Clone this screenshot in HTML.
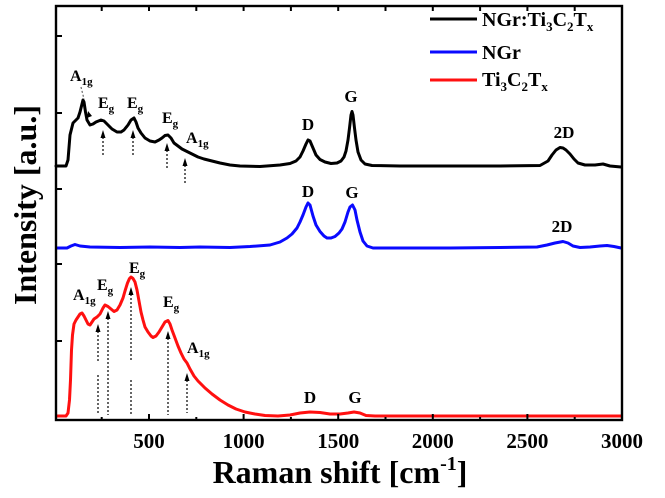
<!DOCTYPE html>
<html>
<head>
<meta charset="utf-8">
<style>
html,body{margin:0;padding:0;background:#fff;}
svg{display:block;}
text{font-family:"Liberation Serif","Times New Roman",serif;font-weight:bold;fill:#000;}
</style>
</head>
<body>
<svg width="665" height="498" viewBox="0 0 665 498" xmlns="http://www.w3.org/2000/svg">
<rect x="0" y="0" width="665" height="498" fill="#fff"/>

<!-- series -->
<polyline fill="none" stroke="#000" stroke-width="3" stroke-linejoin="round" stroke-linecap="round"
points="56,166 66,166 68,160 70,135 73,123 76,120 78,118 80,112 81,108 83,100 84,102 85.5,112 87,120 90,125 93,124 96,122 101,120 104,121 108,125 112,129 117,132 121,132 124,130 128,125 131,120 134,118 136,122 138,128 141,133 145,138 150,141 155,142 159,140 162,138 165,135.5 168,135 171,138 174,143 178,146 182,149 186,151 190,153 194,155 198,157 204,159 212,161 220,163 230,165 240,166 260,166.5 280,165 290,163.5 296,161 300,157 303,151 306,144 308,140 310,141 313,148 316,155 320,159.5 325,162 331,163.5 337,163 341,161 344,157 346,151 348,140 349.5,128 351,115 352,111.5 353,115 354.5,128 356,140 358,152 361,160 365,164 372,165.5 400,166 500,166 540,165.5 548,161 552,155 556,150 560,147.5 563,148 566,150 570,154 574,159 578,163 585,165 595,165 603,164 610,166 621,167"/>

<polyline fill="none" stroke="#0a0aff" stroke-width="3" stroke-linejoin="round" stroke-linecap="round"
points="57,248 67,248 71,246 75,244.5 80,246 90,247 120,247.5 150,247 180,247.5 200,247 230,247.5 250,246.5 270,245 280,242 287,238 292,234 297,228 300,222 303,215 306,207 308,203 310,205 313,216 316,225 320,231.5 324,236 327,238 331,238 335,236.5 339,233 342,229 345,222 348,212 350,207 352.5,205 355,210 357,220 360,232 363,241 367,246 373,248 400,248 450,248 500,247.5 537,247 547,245 555,243 563,241.5 568,243 573,246 580,247.5 590,247 600,246 607,245.5 614,246.5 621,248"/>

<polyline fill="none" stroke="#ff1010" stroke-width="3" stroke-linejoin="round" stroke-linecap="round"
points="57,416 66,416 68,413 69.5,400 70.5,380 71.5,350 72.5,335 74,324 76,320 78,317 80,314 82,313 84,316 86,320 88,324 90,325 92,322 94,319 97,317 100,314 103,308 105,305 108,306.5 111,309 114,311.5 117,310 120,305 123,298 125,291 127.5,283 129.5,278.5 131,277 133,278.5 135,282 137,290 139,301 141,312 143,320 145,327 148,332 151,336 153,337.5 156,336 159,332 162,327 165,322 168,320.5 170,324 172,330 175,338 178,346 181,353 184,359 187,363 190,369 194,376 198,381 205,388 212,394 220,400 228,405 236,409 245,412 255,414 265,415.5 278,416 290,415 300,413 310,412 320,412.5 330,414 340,414 348,413 354,412 360,413 366,415.5 375,416 621,416"/>

<!-- dotted arrows (black curve) -->
<g stroke="#000" stroke-width="1.2" stroke-dasharray="2,2" fill="none">
<line x1="103" y1="137" x2="103" y2="157"/>
<line x1="133" y1="137" x2="133" y2="157"/>
<line x1="167" y1="150" x2="167" y2="170"/>
<line x1="185" y1="165" x2="185" y2="185"/>
<line x1="81" y1="87" x2="84" y2="99" stroke="#666"/>
<!-- red curve -->
<line x1="98" y1="331" x2="98" y2="361"/>
<line x1="98" y1="375" x2="98" y2="415"/>
<line x1="108" y1="318" x2="108" y2="415"/>
<line x1="131" y1="294" x2="131" y2="360"/>
<line x1="131" y1="380" x2="131" y2="415"/>
<line x1="168" y1="338" x2="168" y2="415"/>
<line x1="187" y1="380" x2="187" y2="413"/>
</g>
<g fill="#000">
<polygon points="103,130 100.5,138 105.5,138"/>
<polygon points="133,130 130.5,138 135.5,138"/>
<polygon points="167,143 164.5,151 169.5,151"/>
<polygon points="185,158 182.5,166 187.5,166"/>
<polygon points="88,111 87,118 92,116"/>
<polygon points="98,324 95.5,332 100.5,332"/>
<polygon points="108,311 105.5,319 110.5,319"/>
<polygon points="131,287 128.5,295 133.5,295"/>
<polygon points="168,331 165.5,339 170.5,339"/>
<polygon points="187,373 184.5,381 189.5,381"/>
</g>

<!-- peak labels -->
<g font-size="16">
<text x="70" y="81">A<tspan font-size="11" dy="4">1g</tspan></text>
<text x="98" y="108">E<tspan font-size="11" dy="4">g</tspan></text>
<text x="127" y="108">E<tspan font-size="11" dy="4">g</tspan></text>
<text x="162" y="123">E<tspan font-size="11" dy="4">g</tspan></text>
<text x="186" y="143">A<tspan font-size="11" dy="4">1g</tspan></text>

<text x="73" y="300">A<tspan font-size="11" dy="4">1g</tspan></text>
<text x="97" y="290">E<tspan font-size="11" dy="4">g</tspan></text>
<text x="129" y="273">E<tspan font-size="11" dy="4">g</tspan></text>
<text x="163" y="307">E<tspan font-size="11" dy="4">g</tspan></text>
<text x="187" y="353">A<tspan font-size="11" dy="4">1g</tspan></text>
</g>
<g font-size="17" text-anchor="middle">
<text x="308" y="130">D</text>
<text x="351" y="102">G</text>
<text x="564" y="138">2D</text>
<text x="308" y="197">D</text>
<text x="352" y="198">G</text>
<text x="562" y="232">2D</text>
<text x="310" y="403">D</text>
<text x="355" y="403">G</text>
</g>

<!-- legend -->
<line x1="430" y1="19" x2="477" y2="19" stroke="#000" stroke-width="3"/>
<line x1="430" y1="52" x2="477" y2="52" stroke="#0a0aff" stroke-width="3"/>
<line x1="430" y1="80" x2="477" y2="80" stroke="#ff1010" stroke-width="3"/>
<g font-size="20">
<text x="482" y="26">NGr:Ti<tspan font-size="13" dy="5">3</tspan><tspan dy="-5">C</tspan><tspan font-size="13" dy="5">2</tspan><tspan dy="-5">T</tspan><tspan font-size="13" dy="5">x</tspan></text>
<text x="482" y="59">NGr</text>
<text x="482" y="86">Ti<tspan font-size="13" dy="5">3</tspan><tspan dy="-5">C</tspan><tspan font-size="13" dy="5">2</tspan><tspan dy="-5">T</tspan><tspan font-size="13" dy="5">x</tspan></text>
</g>

<!-- axes frame -->
<rect x="56" y="6" width="566" height="414" fill="none" stroke="#000" stroke-width="2.4"/>
<g stroke="#000" stroke-width="2">
<!-- bottom major -->
<line x1="149" y1="420" x2="149" y2="414"/>
<line x1="243.6" y1="420" x2="243.6" y2="414"/>
<line x1="338.2" y1="420" x2="338.2" y2="414"/>
<line x1="432.8" y1="420" x2="432.8" y2="414"/>
<line x1="527.4" y1="420" x2="527.4" y2="414"/>
<!-- bottom minor -->
<line x1="101.7" y1="420" x2="101.7" y2="417"/>
<line x1="196.3" y1="420" x2="196.3" y2="417"/>
<line x1="290.9" y1="420" x2="290.9" y2="417"/>
<line x1="385.5" y1="420" x2="385.5" y2="417"/>
<line x1="480.1" y1="420" x2="480.1" y2="417"/>
<line x1="574.7" y1="420" x2="574.7" y2="417"/>
<!-- top -->
<line x1="101.7" y1="6" x2="101.7" y2="11"/>
<line x1="149" y1="6" x2="149" y2="11"/>
<line x1="196.3" y1="6" x2="196.3" y2="11"/>
<line x1="243.6" y1="6" x2="243.6" y2="11"/>
<line x1="290.9" y1="6" x2="290.9" y2="11"/>
<line x1="338.2" y1="6" x2="338.2" y2="11"/>
<line x1="385.5" y1="6" x2="385.5" y2="11"/>
<line x1="432.8" y1="6" x2="432.8" y2="11"/>
<line x1="480.1" y1="6" x2="480.1" y2="11"/>
<line x1="527.4" y1="6" x2="527.4" y2="11"/>
<line x1="574.7" y1="6" x2="574.7" y2="11"/>
<!-- left -->
<line x1="56" y1="36" x2="62" y2="36"/>
<line x1="56" y1="113" x2="62" y2="113"/>
<line x1="56" y1="189" x2="62" y2="189"/>
<line x1="56" y1="264" x2="62" y2="264"/>
<line x1="56" y1="341" x2="62" y2="341"/>
</g>

<!-- tick labels -->
<g font-size="21" text-anchor="middle">
<text x="149" y="448">500</text>
<text x="243.6" y="448">1000</text>
<text x="338.2" y="448">1500</text>
<text x="432.8" y="448">2000</text>
<text x="527.4" y="448">2500</text>
<text x="622" y="448">3000</text>
</g>

<!-- axis titles -->
<text x="340" y="483" font-size="32" text-anchor="middle">Raman shift [cm<tspan font-size="20" dy="-13">-1</tspan><tspan dy="13">]</tspan></text>
<text transform="translate(36,205) rotate(-90)" font-size="32" text-anchor="middle">Intensity [a.u.]</text>
</svg>
</body>
</html>
